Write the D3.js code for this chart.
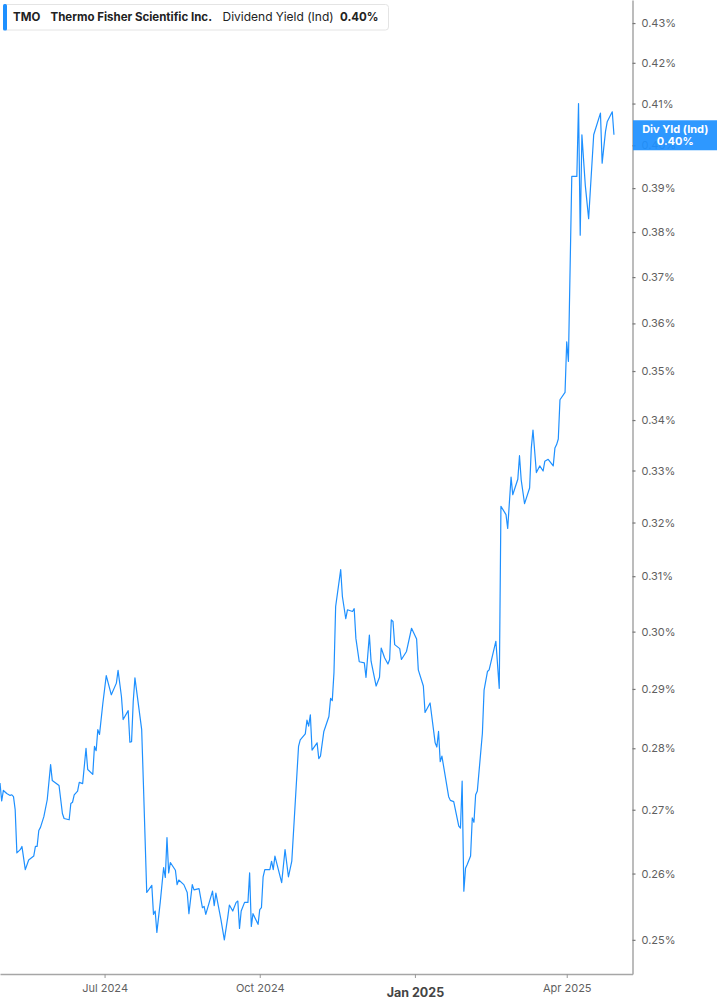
<!DOCTYPE html>
<html><head><meta charset="utf-8">
<script src="https://cdn.jsdelivr.net/npm/d3@7"></script>
<style>
html,body{margin:0;padding:0;background:#fff;}
svg{display:block;font-family:Inter,"Noto Sans",sans-serif;}
</style></head>
<body><svg id="c" width="717" height="1005"></svg>
<script>
const dates = ["2024-04-30","2024-05-01","2024-05-02","2024-05-04","2024-05-06","2024-05-07","2024-05-08","2024-05-09","2024-05-10","2024-05-12",
"2024-05-13","2024-05-15","2024-05-17","2024-05-20","2024-05-21","2024-05-22","2024-05-23","2024-05-24","2024-05-26","2024-05-28",
"2024-05-30","2024-05-31","2024-06-04","2024-06-06","2024-06-07","2024-06-10","2024-06-11","2024-06-12","2024-06-13","2024-06-15",
"2024-06-16","2024-06-18","2024-06-20","2024-06-21","2024-06-24","2024-06-25","2024-06-26","2024-06-27","2024-06-28","2024-06-30",
"2024-07-02","2024-07-05","2024-07-08","2024-07-09","2024-07-11","2024-07-12","2024-07-15","2024-07-16","2024-07-17","2024-07-18",
"2024-07-19","2024-07-22","2024-07-23","2024-07-24","2024-07-26","2024-07-29","2024-07-30","2024-07-31","2024-08-01","2024-08-03",
"2024-08-05","2024-08-06","2024-08-07","2024-08-08","2024-08-09","2024-08-12","2024-08-13","2024-08-14","2024-08-17","2024-08-19",
"2024-08-20","2024-08-22","2024-08-23","2024-08-26","2024-08-28","2024-08-29","2024-08-30","2024-09-03","2024-09-04","2024-09-05",
"2024-09-08","2024-09-10","2024-09-12","2024-09-13","2024-09-15","2024-09-17","2024-09-18","2024-09-19","2024-09-20","2024-09-22",
"2024-09-24","2024-09-25","2024-09-26","2024-09-27","2024-09-30","2024-10-01","2024-10-02","2024-10-03","2024-10-04","2024-10-07",
"2024-10-08","2024-10-09","2024-10-10","2024-10-14","2024-10-16","2024-10-18","2024-10-20",
"2024-10-24","2024-10-25","2024-10-28","2024-10-29","2024-10-30","2024-10-31","2024-11-01","2024-11-04","2024-11-05","2024-11-06",
"2024-11-08","2024-11-11","2024-11-12","2024-11-13","2024-11-14","2024-11-15","2024-11-18","2024-11-19","2024-11-21","2024-11-22",
"2024-11-25","2024-11-26","2024-11-27","2024-11-29","2024-12-02","2024-12-03","2024-12-05","2024-12-06","2024-12-09","2024-12-11",
"2024-12-12","2024-12-14","2024-12-16","2024-12-17","2024-12-18","2024-12-19","2024-12-20","2024-12-23","2024-12-24","2024-12-27",
"2024-12-30","2025-01-02","2025-01-03","2025-01-06","2025-01-07","2025-01-10","2025-01-13","2025-01-14","2025-01-15","2025-01-16",
"2025-01-17","2025-01-21","2025-01-22","2025-01-24","2025-01-27","2025-01-28","2025-01-29","2025-01-30","2025-01-31","2025-02-01",
"2025-02-03","2025-02-04","2025-02-05","2025-02-06","2025-02-07","2025-02-10","2025-02-11","2025-02-13","2025-02-14","2025-02-18",
"2025-02-20","2025-02-21","2025-02-24","2025-02-25","2025-02-27","2025-02-28","2025-03-03","2025-03-04","2025-03-05","2025-03-07",
"2025-03-10","2025-03-11","2025-03-12","2025-03-14","2025-03-16","2025-03-18","2025-03-19","2025-03-21","2025-03-24","2025-03-25",
"2025-03-26","2025-03-27","2025-03-28","2025-03-31","2025-04-01","2025-04-02","2025-04-04","2025-04-07","2025-04-08","2025-04-09",
"2025-04-10","2025-04-12","2025-04-14","2025-04-15","2025-04-17","2025-04-21","2025-04-22","2025-04-24","2025-04-25","2025-04-28","2025-04-29"];

const divYield = [0.2743,0.2714,0.2731,0.2726,0.2723,0.2724,0.2721,0.2700,0.2632,0.2637,
0.2642,0.2606,0.2621,0.2627,0.2642,0.2642,0.2667,0.2672,0.2689,0.2716,
0.2773,0.2747,0.2739,0.2694,0.2686,0.2684,0.2710,0.2712,0.2724,0.2730,
0.2744,0.2742,0.2800,0.2765,0.2757,0.2803,0.2796,0.2831,0.2823,0.2876,
0.2923,0.2890,0.2910,0.2932,0.2887,0.2848,0.2863,0.2810,0.2811,0.2879,
0.2919,0.2853,0.2831,0.2744,0.2571,0.2582,0.2538,0.2543,0.2511,0.2556,
0.2609,0.2594,0.2656,0.2601,0.2617,0.2605,0.2583,0.2590,0.2583,0.2571,
0.2539,0.2583,0.2575,0.2577,0.2548,0.2550,0.2538,0.2573,0.2551,0.2570,
0.2530,0.2500,0.2533,0.2552,0.2543,0.2556,0.2558,0.2517,0.2543,0.2556,
0.2556,0.2601,0.2520,0.2539,0.2523,0.2545,0.2548,0.2595,0.2606,0.2606,
0.2619,0.2606,0.2627,0.2586,0.2637,0.2595,0.2619,
0.2803,0.2814,0.2824,0.2847,0.2837,0.2856,0.2797,0.2809,0.2783,0.2787,
0.2828,0.2853,0.2884,0.2880,0.2928,0.3045,0.3112,0.3063,0.3023,0.3039,
0.3036,0.3041,0.2988,0.2947,0.2945,0.2920,0.2994,0.2948,0.2905,0.2920,
0.2971,0.2954,0.2943,0.2951,0.3021,0.3018,0.2977,0.2970,0.2951,0.2965,
0.3006,0.2987,0.2933,0.2905,0.2860,0.2876,0.2809,0.2802,0.2828,0.2778,
0.2787,0.2721,0.2715,0.2713,0.2674,0.2671,0.2746,0.2573,0.2608,0.2614,
0.2627,0.2687,0.2680,0.2724,0.2730,0.2825,0.2898,0.2930,0.2933,0.2983,
0.2901,0.3231,0.3215,0.3189,0.3287,0.3253,0.3283,0.3329,0.3282,0.3236,
0.3266,0.3344,0.3380,0.3296,0.3309,0.3299,0.3318,0.3322,0.3309,0.3344,
0.3351,0.3362,0.3441,0.3456,0.3561,0.3520,0.3927,0.3927,0.4100,0.3793,
0.4025,0.3907,0.3830,0.3895,0.4025,0.4077,0.3958,0.4033,0.4056,0.4080,0.4025];

const yTicks = [0.25,0.26,0.27,0.28,0.29,0.30,0.31,0.32,0.33,0.34,0.35,0.36,0.37,0.38,0.39,0.40,0.41,0.42,0.43];
const xTickDates = ["2024-07-01","2024-10-01","2025-01-01","2025-04-01"];
const xTickLabels = ["Jul 2024","Oct 2024","Jan 2025","Apr 2025"];
const legendTicker = "TMO";
const legendName = "Thermo Fisher Scientific Inc.";
const legendMetric = "Dividend Yield (Ind)";
const lastValueLabel = "0.40%";
const tagTitle = "Div Yld (Ind)";

const parse = d3.timeParse("%Y-%m-%d");
const data = dates.map((d,i)=>({date:parse(d), v:divYield[i]}));

const W = 717, H = 1005;
const plotRight = 632.5, plotBottom = 974;
const blue = "#1e90ff";
const svg = d3.select("#c");

const x = d3.scaleTime().domain([parse("2024-04-30"), parse("2025-05-10")]).range([0, plotRight]);
const y = d3.scaleLog().domain([0.245, 0.4359]).range([plotBottom, 0]);

// line
const line = d3.line().x(d=>x(d.date)).y(d=>y(d.v));
svg.append("path").datum(data)
  .attr("d", line).attr("fill","none").attr("stroke", blue)
  .attr("stroke-width",1.2).attr("stroke-linejoin","round");

// y axis (right)
const yAxis = d3.axisRight(y).tickValues(yTicks)
  .tickFormat(d=>d.toFixed(2)+"%").tickSize(3).tickSizeOuter(0).tickPadding(6);
const gy = svg.append("g").attr("transform",`translate(${plotRight},0)`).call(yAxis);
gy.select(".domain").attr("stroke","#a6a6a6").attr("stroke-width",1.5);
gy.selectAll(".tick line").attr("stroke","#777").attr("stroke-width",1.2);
gy.selectAll(".tick text").attr("fill","#5f5f5f").attr("font-size",11)
  .attr("font-family","Inter, sans-serif");

// x axis
const xAxis = d3.axisBottom(x).tickValues(xTickDates.map(parse))
  .tickFormat((d,i)=>xTickLabels[i]).tickSize(4).tickSizeOuter(0).tickPadding(6);
const gx = svg.append("g").attr("transform",`translate(0,${plotBottom})`).call(xAxis);
gx.select(".domain").attr("stroke","#a6a6a6").attr("stroke-width",1.5);
gx.selectAll(".tick line").attr("stroke","#999").attr("stroke-width",1);
gx.selectAll(".tick text").attr("fill","#5f5f5f").attr("font-size",11)
  .attr("font-family","Inter, sans-serif");
gx.selectAll(".tick text").filter((d,i)=>xTickLabels[i]==="Jan 2025")
  .attr("font-weight","bold").attr("font-size",12.5).attr("fill","#444").attr("dy","1.05em");

// last value tag
const lastV = data[data.length-1].v;
const tagY = y(lastV);
const tag = svg.append("g");
tag.append("rect").attr("x",plotRight+0.5).attr("y",tagY-14.5).attr("width",W-plotRight).attr("height",30)
  .attr("fill",blue).attr("fill-opacity",0.93);
tag.append("text").attr("x",(plotRight+W)/2+0.5).attr("y",tagY-1.5).attr("text-anchor","middle")
  .attr("fill","#fff").attr("font-weight","bold").attr("font-size",11).text(tagTitle);
tag.append("text").attr("x",(plotRight+W)/2+0.5).attr("y",tagY+10).attr("text-anchor","middle")
  .attr("fill","#fff").attr("font-weight","bold").attr("font-size",11).text(lastValueLabel);

// legend
const lg = svg.append("g");
lg.append("rect").attr("x",3.5).attr("y",4.5).attr("width",385).attr("height",25.5).attr("rx",3)
  .attr("fill","#fff").attr("stroke","#e4e4e4");
lg.append("rect").attr("x",3).attr("y",4).attr("width",4).attr("height",26.5).attr("rx",1.5).attr("fill",blue);
const lgText = (tx, xx, bold)=> lg.append("text").attr("x",xx).attr("y",21)
  .attr("font-size",bold?11.5:12).attr("fill","#222").attr("font-weight",bold?"bold":"normal").text(tx);
lgText(legendTicker, 13, true);
lgText(legendName, 50.5, true);
lgText(legendMetric, 222.5, false);
lgText(lastValueLabel, 340, true);
</script></body></html>
